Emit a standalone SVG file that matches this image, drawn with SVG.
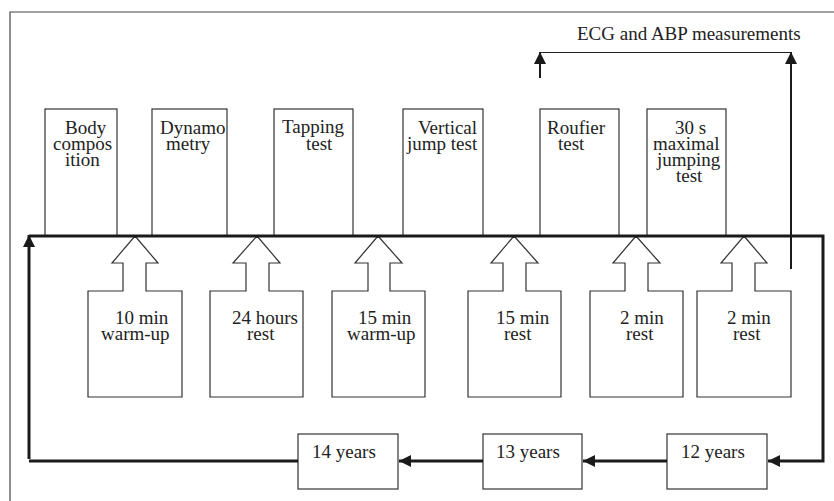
<svg xmlns="http://www.w3.org/2000/svg" width="834" height="501" viewBox="0 0 834 501">
<style>
text{font-family:"Liberation Serif","Times New Roman",serif;font-size:19px;fill:#222}
.box{fill:#fff;stroke:#333;stroke-width:1.2}
.thick{fill:none;stroke:#1a1a1a;stroke-width:3}
.med{fill:none;stroke:#1a1a1a;stroke-width:2}
.thin{fill:none;stroke:#222;stroke-width:1.2}
.frame{fill:none;stroke:#444;stroke-width:1.2}
</style>
<defs>
<marker id="ah" markerUnits="userSpaceOnUse" markerWidth="12" markerHeight="12" viewBox="0 0 10 10" refX="10" refY="5" orient="auto">
<path d="M0,0 L10,5 L0,10 z" fill="#1a1a1a"/>
</marker>
</defs>
<rect width="834" height="501" fill="#fff"/>
<path class="frame" d="M10,501 V12 H834"/>

<g id="body-composition"><rect class="box" x="45" y="109" width="72" height="127"/>
<text><tspan x="65" y="134">Body</tspan><tspan x="53" y="150">compos</tspan><tspan x="65" y="166">ition</tspan></text></g>
<g id="dynamometry"><rect class="box" x="152" y="109" width="75" height="127"/>
<text><tspan x="160" y="134">Dynamo</tspan><tspan x="166" y="150">metry</tspan></text></g>
<g id="tapping-test"><rect class="box" x="274" y="109" width="79" height="127"/>
<text><tspan x="282" y="133">Tapping</tspan><tspan x="306" y="150">test</tspan></text></g>
<g id="vertical-jump-test"><rect class="box" x="403" y="109" width="80" height="127"/>
<text><tspan x="418" y="134">Vertical</tspan><tspan x="407" y="150">jump test</tspan></text></g>
<g id="roufier-test"><rect class="box" x="540" y="109" width="79" height="127"/>
<text><tspan x="547" y="134">Roufier</tspan><tspan x="558" y="150">test</tspan></text></g>
<g id="maximal-jumping-test"><rect class="box" x="647" y="109" width="79" height="127"/>
<text><tspan x="675" y="134">30 s</tspan><tspan x="653" y="150">maximal</tspan><tspan x="657" y="166">jumping</tspan><tspan x="676" y="182">test</tspan></text></g>

<g id="warmup-10"><path class="box" d="M135,236 L158,263 H146 V291 H182 V397 H88 V291 H123 V263 H112 Z"/>
<text><tspan x="115" y="324">10 min</tspan><tspan x="101" y="340">warm-up</tspan></text></g>
<g id="rest-24h"><path class="box" d="M257,236 L280,263 H269 V291 H303 V397 H210 V291 H246 V263 H233 Z"/>
<text><tspan x="232" y="324">24 hours</tspan><tspan x="247" y="340">rest</tspan></text></g>
<g id="warmup-15"><path class="box" d="M378,236 L402,263 H390 V291 H425 V397 H332 V291 H368 V263 H355 Z"/>
<text><tspan x="358" y="324">15 min</tspan><tspan x="347" y="340">warm-up</tspan></text></g>
<g id="rest-15"><path class="box" d="M514,236 L538,263 H526 V291 H561 V397 H468 V291 H503 V263 H491 Z"/>
<text><tspan x="496" y="324">15 min</tspan><tspan x="504" y="340">rest</tspan></text></g>
<g id="rest-2a"><path class="box" d="M636,236 L660,263 H648 V291 H683 V397 H590 V291 H625 V263 H613 Z"/>
<text><tspan x="620" y="324">2 min</tspan><tspan x="626" y="340">rest</tspan></text></g>
<g id="rest-2b"><path class="box" d="M744,236 L767,263 H755 V291 H791 V397 H697 V291 H732 V263 H721 Z"/>
<text><tspan x="727" y="324">2 min</tspan><tspan x="733" y="340">rest</tspan></text></g>

<g id="age-14"><rect class="box" x="298" y="434" width="100" height="55"/><text x="312" y="458">14 years</text></g>
<g id="age-13"><rect class="box" x="483" y="434" width="99" height="55"/><text x="496" y="458">13 years</text></g>
<g id="age-12"><rect class="box" x="667" y="434" width="100" height="55"/><text x="681" y="458">12 years</text></g>

<g id="ecg-label"><text x="577" y="40">ECG and ABP measurements</text></g>

<g id="connectors">
<path class="thick" d="M29,236 H823 V461 H768" marker-end="url(#ah)"/>
<path class="thick" d="M667,461 H583" marker-end="url(#ah)"/>
<path class="thick" d="M483,461 H399" marker-end="url(#ah)"/>
<path class="thick" d="M298,461 H29"/>
<path class="thick" d="M29,459 V235" marker-end="url(#ah)"/>
<path class="med" d="M791,269 V52" marker-end="url(#ah)"/>
<path class="thin" d="M540,52.5 H791"/>
<path class="med" d="M540,78 V52" marker-end="url(#ah)"/>
</g>
</svg>
